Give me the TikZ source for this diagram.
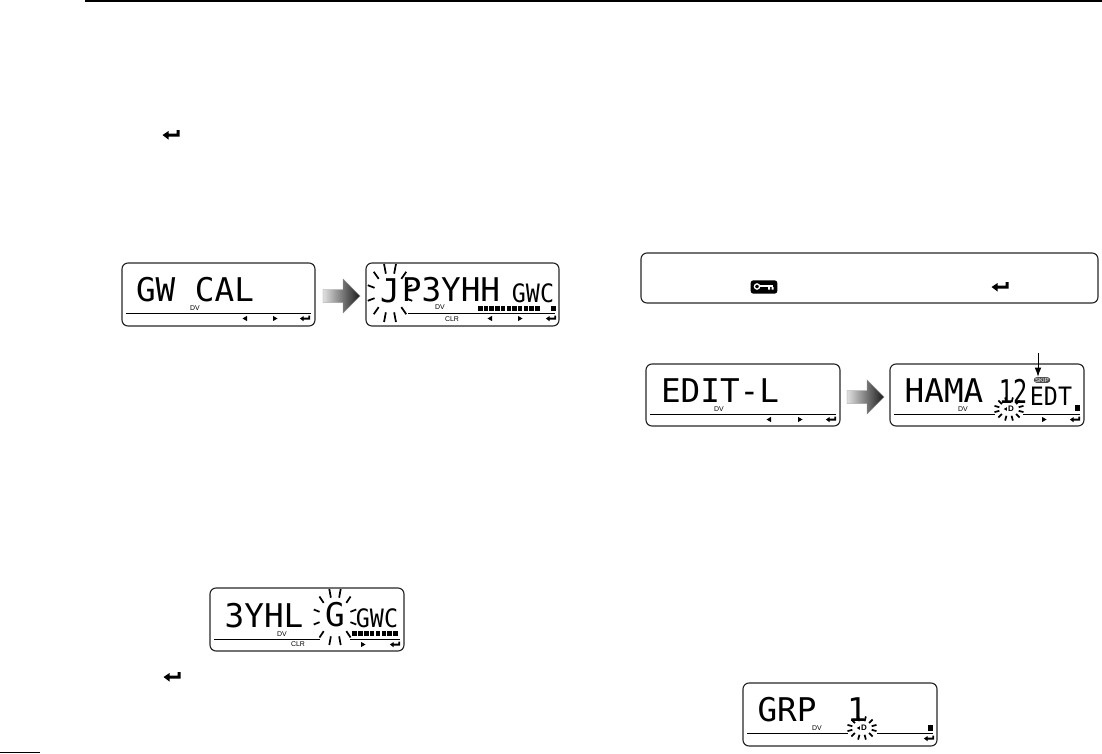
\documentclass[tikz,border=0pt]{standalone}
\usepackage{fontspec}
\usetikzlibrary{arrows.meta}
\newfontfamily\lcdfont{DejaVu Sans Mono}
\newfontfamily\lcdmidfont[FakeStretch=0.92]{DejaVu Sans Mono}
\newfontfamily\lcdnumfont[FakeStretch=0.72]{DejaVu Sans Mono}
\newfontfamily\lcdsmall{Liberation Sans}
\tikzset{
  lcdframe/.style={draw=black!85,line width=0.85pt,rounded corners=4.5pt},
  lcdline/.style={draw=black,line width=0.75pt},
  lcdray/.style={draw=black,line width=1.3pt},
  lcdbig/.style={inner sep=0pt,font=\lcdfont\fontsize{24.5}{24.5}\selectfont},
  lcdnum/.style={inner sep=0pt,font=\lcdnumfont\fontsize{24.5}{24.5}\selectfont},
  lcdmid/.style={inner sep=0pt,font=\lcdmidfont\fontsize{19}{19}\selectfont},
  lcdtiny/.style={inner sep=0pt,font=\lcdsmall\fontsize{5.2}{5.2}\selectfont},
  enterkey/.pic={\fill (-8.5,0) -- (-2.5,-4) -- (-2.5,-1.5) -- (5.5,-1.5) -- (5.5,-5) -- (8.5,-5) -- (8.5,1.7) -- (-2.5,1.7) -- (-2.5,4.5) -- cycle;},
  lcdleft/.pic={\fill (-2.5,0) -- (2,-2.6) -- (2,2.6) -- cycle;},
  lcdright/.pic={\fill (2.5,0) -- (-2,-2.6) -- (-2,2.6) -- cycle;},
}
\newcommand{\lcdblink}[6]{\foreach \a in {15,45,...,345} {\draw[lcdray,shift={(#1,#2)}] (\a:#3 and #4) -- (\a:#5 and #6);}}
\newcommand{\lcdbar}[4]{\foreach \i in {1,...,#3} {\fill ({#1+#4*(\i-1)},{#2-2.5}) rectangle ++({#4-1.2},5);}}
\newcommand{\lcdarrow}[2]{\shade[left color=black!12,right color=black!90,draw=black!45,line width=0.3pt] (#1,#2-6.5) -- (#1+20,#2-6.5) -- (#1+20,#2-17) -- (#1+37,#2) -- (#1+20,#2+17) -- (#1+20,#2+6.5) -- (#1,#2+6.5) -- cycle;}

\begin{document}
\begin{tikzpicture}[x=0.75pt,y=0.75pt,yscale=-1,xscale=1]
\useasboundingbox (0,0) rectangle (1102,753);

%Page rules
\fill (85,0) rectangle (1102,2);
\fill (0,752) rectangle (40,753);
\path (171,135) pic [transform shape] {enterkey};
\path (172,677) pic [transform shape] {enterkey};

%Display one
\draw[lcdframe] (122,263) rectangle (315,326);
\draw[lcdline] (126,313) -- (311,313);
\draw (195,290) node (calText) [lcdbig] {GW CAL};
\draw (195,308) node (calDv) [lcdtiny] {DV};
\path (245,318.5) pic {lcdleft} (275,318.5) pic {lcdright} (305,318.5) pic [transform shape,scale=0.6] {enterkey};

%Arrow
\lcdarrow{323}{296}

%Display two
\draw[lcdframe] (366,263) rectangle (559,326);
\draw[lcdline] (408,313) -- (555,313);
\draw (390,291) node (jText) [lcdbig] {J};
\draw (451,290) node (callText) [lcdbig] {P3YHH};
\draw (533,293) node (gwcText) [lcdmid] {GWC};
\draw (440,307) node (callDv) [lcdtiny] {DV};
\draw (452,319) node (callClr) [lcdtiny] {CLR};
\lcdblink{390}{293}{16}{20}{23}{30}
\lcdbar{478}{308}{11}{5.7}
\fill (551,305.5) rectangle (556,310.5);
\path (490,318.5) pic {lcdleft} (520,318.5) pic {lcdright} (551,318.5) pic [transform shape,scale=0.6] {enterkey};

%Display three
\draw[lcdframe] (210,588) rectangle (404,651);
\draw[lcdline] (214,639) -- (320,639);
\draw[lcdline] (350,639) -- (400,639);
\draw (264,616) node (nameText) [lcdbig] {3YHL};
\draw (335,615) node (gText) [lcdbig] {G};
\draw (377,618) node (nameGwc) [lcdmid] {GWC};
\draw (282,634) node (nameDv) [lcdtiny] {DV};
\draw (298,644) node (nameClr) [lcdtiny] {CLR};
\lcdblink{335}{617}{16}{20}{22}{29}
\lcdbar{352}{633}{8}{5.9}
\path (363,644.5) pic {lcdright} (395,644.5) pic [transform shape,scale=0.6] {enterkey};

%Note box
\draw[lcdframe] (641,253) rectangle (1098,303);
\draw (764,287) node (keyIcon) [fill=black,rounded corners=2pt,minimum width=20pt,minimum height=10pt,inner sep=0pt] {};
\draw[white,line width=1pt] (757,286.5) circle (2.6);
\draw[white,line width=1.3pt] (760,286) -- (773,286);
\fill[white] (768,287) rectangle (770,289.5) (771.5,287) rectangle (773.5,289.5);
\path (1000,287) pic [transform shape] {enterkey};

%Display four
\draw[lcdframe] (646,364) rectangle (840,426);
\draw[lcdline] (650,414) -- (836,414);
\draw (720,391) node (editText) [lcdbig] {EDIT-L};
\draw (719,409) node (editDv) [lcdtiny] {DV};
\path (769,419.5) pic {lcdleft} (800,419.5) pic {lcdright} (831,419.5) pic [transform shape,scale=0.6] {enterkey};

%Arrow
\lcdarrow{847}{397}

%Display five
\draw[lcdframe] (890,364) rectangle (1084,426);
\draw[lcdline] (894,414) -- (995,414);
\draw[lcdline] (1023,414) -- (1080,414);
\draw (944,391) node (hamaText) [lcdbig] {HAMA};
\draw (1013,391) node (hamaNum) [lcdnum] {12};
\draw (1051,396) node (edtText) [lcdmid] {EDT};
\draw (963,409) node (hamaDv) [lcdtiny] {DV};
\draw (1042,380) node (skipText) [lcdtiny,fill=black!70,text=white,rounded corners=2pt,inner xsep=1pt,inner ysep=0.5pt,font=\lcdsmall\fontsize{4.5}{4.5}\selectfont] {SKIP};
\coordinate (skipTop) at (1038,353);
\draw[-{Latex[length=7pt,width=5pt]},line width=0.75pt] (skipTop) -- (skipTop |- skipText.north);
\lcdblink{1009}{409}{10}{7}{15}{12}
\draw (1011,409) node (hamaIcon) [lcdtiny,font=\lcdsmall\bfseries\fontsize{6}{6}\selectfont] {D};
\path (1005.5,409) pic [transform shape,scale=0.7] {lcdleft};
\fill (1074.5,405) rectangle (1079.5,411);
\path (1044,419.5) pic {lcdright} (1075,419.5) pic [transform shape,scale=0.6] {enterkey};

%Display six
\draw[lcdframe] (743,683) rectangle (937,746);
\draw[lcdline] (747,733) -- (848,733);
\draw[lcdline] (877,733) -- (933,733);
\draw (787,710) node (grpText) [lcdbig] {GRP};
\draw (857,710) node (grpNum) [lcdbig] {1};
\draw (817,728) node (grpDv) [lcdtiny] {DV};
\lcdblink{862}{728}{10}{7}{15}{12}
\draw (864,728) node (grpIcon) [lcdtiny,font=\lcdsmall\bfseries\fontsize{6}{6}\selectfont] {D};
\path (858.5,728) pic [transform shape,scale=0.7] {lcdleft};
\fill (928,725) rectangle (933,731);
\path (929,738.5) pic [transform shape,scale=0.6] {enterkey};

\end{tikzpicture}
\end{document}
